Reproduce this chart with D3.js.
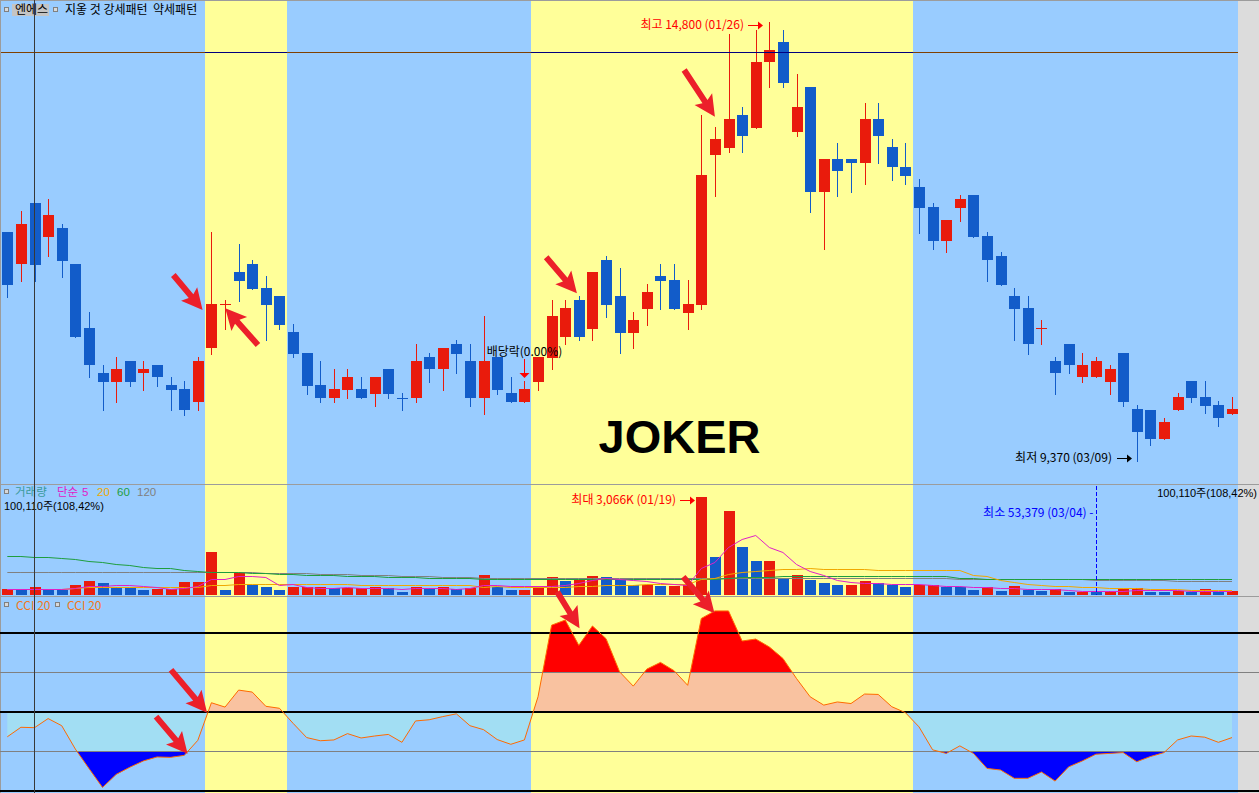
<!DOCTYPE html>
<html><head><meta charset="utf-8">
<script src="https://cdnjs.cloudflare.com/ajax/libs/d3/7.8.5/d3.min.js"></script>
<style>html,body{margin:0;padding:0;background:#fff;overflow:hidden}text{white-space:pre}</style>
</head><body><svg id="c" width="1259" height="793"></svg>
<script>
// ---------------- DATA ----------------
const opens  = [12200,11800,12560,12140,12250,11800,11010,10460,10350,10600,10450,10550,10310,10260,10100,10760,11310,11710,11800,11510,11410,10960,10700,10310,10150,10250,10260,10200,10500,10150,10150,10650,10500,10820,10600,10150,10650,10210,10100,10350,10640,10900,11360,11000,11850,11410,10950,11250,11660,11610,11200,11300,13150,13240,13650,13490,14300,14550,13440,14000,12700,13100,13100,13050,13600,13250,13000,12760,12510,12090,12500,12660,12150,11900,11410,11260,11010,10600,10820,10400,10400,10350,10700,10010,10000,9640,10000,10360,10160,10060,9950];
const highs  = [12200,12460,12560,12610,12300,11800,11210,10550,10650,10600,10600,10550,10410,10360,10650,12200,11360,12050,11850,11660,11410,11060,10700,10600,10500,10500,10410,10410,10500,10210,10820,10700,10770,10860,10820,11160,10650,10410,10360,10650,11360,11360,11410,11710,11900,11760,11210,11560,11800,11800,11610,13650,13500,14650,13750,14700,14800,14700,14160,14000,13100,13300,13100,13800,13800,13350,13300,12860,12560,12350,12660,12660,12200,11950,11510,11410,11110,10650,10820,10700,10650,10560,10700,10060,10000,9900,10210,10360,10360,10110,10160];
const lows   = [11400,11600,11600,11900,11640,10900,10400,10000,10100,10300,10250,10300,10000,9930,10000,10690,11000,11350,11500,10860,11000,10650,10200,10100,10100,10150,10150,10050,10150,10000,10100,10350,10250,10450,10050,9950,10200,10100,10100,10250,10500,10810,10860,10860,11150,10700,10760,11050,11250,11250,11000,11250,12650,13190,13190,13490,13990,13990,13390,12450,11990,12650,12700,12800,13050,12850,12800,12190,11990,11950,12340,12140,11600,11550,10860,10690,10810,10200,10450,10350,10400,10200,10050,9370,9560,9640,10000,10100,9960,9800,9950];
const closes = [11550,12300,11790,12410,11840,10900,10550,10350,10500,10350,10500,10400,10250,10000,10600,11310,11310,11600,11500,11300,11050,10690,10300,10150,10260,10410,10150,10410,10200,10150,10600,10500,10770,10690,10150,10600,10250,10100,10260,10650,11160,11260,10900,11710,11300,10950,11110,11460,11600,11250,11310,12910,13350,13600,13390,14310,14450,14040,13750,12700,13100,12950,13050,13600,13390,13000,12900,12500,12090,12350,12610,12140,11850,11550,11250,10810,11010,10450,10550,10560,10600,10500,10100,9730,9640,9850,10160,10150,10050,9900,10010];
// volume, thousand shares
const volumes = [148,117,212,148,117,275,402,338,212,180,117,148,148,370,370,1321,117,655,275,212,117,212,212,212,180,180,180,212,180,60,212,180,212,148,180,592,212,117,117,212,529,402,434,560,529,434,275,275,243,243,275,3066,1163,2621,1480,1036,1036,497,592,434,338,275,275,402,338,275,212,275,275,212,202,117,202,94,243,117,94,139,60,60,53,94,139,180,62,60,94,65,148,62,100];
const ma60  = [1190,1180,1170,1150,1130,1100,1050,1000,950,900,860,830,800,760,720,700,690,680,670,650,630,610,600,590,580,570,560,550,540,530,520,510,500,495,490,480,470,465,460,455,450,450,450,450,450,450,450,450,450,450,450,450,470,500,520,530,540,545,550,555,555,555,555,555,555,555,555,555,555,555,500,500,480,480,480,480,470,470,470,470,460,460,450,450,450,450,450,450,450,450,450];
const ma120 = [690,690,690,690,690,690,690,690,690,690,690,690,680,680,680,680,680,680,680,670,660,650,640,630,620,610,600,590,580,570,560,550,540,530,520,510,500,500,500,500,490,490,490,490,490,490,490,490,490,490,490,490,500,500,500,500,510,510,510,510,510,510,510,510,510,510,510,510,500,500,480,480,470,470,460,460,450,450,450,450,440,440,430,430,420,420,410,400,400,400,400];
const cci = [-63,-39,-40,-17,-35,-94,-143,-191,-158,-140,-124,-114,-115,-110,-72,23,12,55,50,14,9,-29,-65,-73,-71,-55,-66,-61,-57,-77,-23,-20,-12,-5,-35,-45,-70,-82,-71,38,219,232,168,217,185,101,65,108,125,104,67,236,255,255,179,184,164,135,84,38,17,25,21,45,44,13,-2,-38,-96,-105,-86,-105,-143,-147,-168,-168,-152,-175,-139,-124,-107,-105,-103,-126,-113,-103,-71,-61,-64,-77,-65];
const highlightRanges = [[15,20],[39,66]];     // yellow periods (candle index ranges)
const cciLevels = [200,100,0,-100,-200];
const markLine = 14430;                          // horizontal price line
const crossIndex = 1.95;                         // vertical cursor line
const highInfo = {i:56, label:"최고 14,800 (01/26)"};
const lowInfo  = {i:83, label:"최저 9,370 (03/09)"};
const volMaxInfo = {i:51, label:"최대 3,066K (01/19)"};
const volMinInfo = {i:80, label:"최소 53,379 (03/04)"};
const dividend = {i:38, label:"배당락(0.00%)"};
const lastVolLabel = "100,110주(108,42%)";
const volLegend = [["거래량","#3A9A9A",15],["단순","#E020C8",57],["5","#E020C8",82],["20","#F0A800",97],["60","#1E9E3E",117],["120","#808080",137]];
// annotation arrows: [panel, tailIndex, tailValue, tipIndex, tipValue]
const arrows = [
  ["p",12.2,11669,14.35,11235],["p",18.42,10802,16.02,11256],
  ["p",39.6,11888,41.86,11442],["p",49.74,14206,52.0,13628],
  ["c",12.03,106,14.68,-2],["c",10.93,-12,13.25,-106],
  ["c",40.41,303,42.05,211],["c",49.67,341,51.97,249]
];

// ---------------- SETUP ----------------
const RED="#E91B0C", BLUE="#125CC9", BGB="#99CCFF", BGY="#FFFF99", GRAYBG="#DCDCDC";
const FONT="'Noto Sans CJK KR','Noto Sans',sans-serif";
const FONT2="'Liberation Sans','Noto Sans CJK KR',sans-serif";
const svg = d3.select("#c");
const n = closes.length;
const x  = d3.scaleLinear().domain([0, n-1]).range([7.3, 1232]);
const yP = d3.scaleLinear().domain([9370, 14800]).range([460.7, 22]);
const yV = d3.scaleLinear().domain([-42, 3066]).range([595, 497]);
const yC = d3.scaleLinear().domain([-200, 200]).range([791, 632.7]);
const xr = i => Math.round(x(i));

// backgrounds
const segs=[]; let st=-0.5;
highlightRanges.forEach(([a,b])=>{segs.push([st,a-0.5,BGB]);segs.push([a-0.5,b+0.5,BGY]);st=b+0.5;});
segs.push([st,n-0.5,BGB]);
const ex = v => Math.max(0,Math.round(x(v)+0.3));
svg.append("rect").attr("x",0).attr("y",0).attr("width",1259).attr("height",793).attr("fill",GRAYBG);
svg.selectAll("rect.bg").data(segs).join("rect").attr("class","bg")
  .attr("x",d=>ex(d[0])).attr("y",0)
  .attr("width",d=>Math.min(1238,ex(d[1]))-ex(d[0])).attr("height",793)
  .attr("fill",d=>d[2]);

// panel borders
const border="#9C9C9C";
[[0,1259,0.5],[0,1259,484.5],[0,1259,596.5]].forEach(([a,b,y])=>svg.append("line").attr("x1",a).attr("x2",b).attr("y1",y).attr("y2",y).attr("stroke",border).attr("stroke-width",1));
svg.append("line").attr("x1",0.5).attr("x2",0.5).attr("y1",0).attr("y2",793).attr("stroke",border);

// ---------------- PRICE ----------------
const gP = svg.append("g");
const dir = d3.range(n).map(i=>closes[i]>opens[i]?1:closes[i]<opens[i]?-1:(i>0&&closes[i]<closes[i-1]?-1:1));
gP.selectAll("line.wick").data(d3.range(n)).join("line")
  .attr("x1",i=>xr(i)+0.5).attr("x2",i=>xr(i)+0.5)
  .attr("y1",i=>Math.round(yP(highs[i]))).attr("y2",i=>Math.round(yP(lows[i]))+1)
  .attr("stroke",i=>dir[i]>0?RED:BLUE).attr("stroke-width",1);
gP.selectAll("rect.body").data(d3.range(n)).join("rect")
  .attr("x",i=>xr(i)-5).attr("width",11)
  .attr("y",i=>Math.round(yP(Math.max(opens[i],closes[i]))))
  .attr("height",i=>Math.max(1,Math.round(yP(Math.min(opens[i],closes[i])))-Math.round(yP(Math.max(opens[i],closes[i])))))
  .attr("fill",i=>dir[i]>0?RED:BLUE);

// horizontal line
const yl = Math.round(yP(markLine))+0.5;
segs.forEach(s=>svg.append("line").attr("x1",ex(s[0])).attr("x2",Math.min(1238,ex(s[1])))
  .attr("y1",yl).attr("y2",yl).attr("stroke",s[2]===BGY?"#000080":"#804000").attr("stroke-width",1));

// high / low labels
function arrowRight(g,tipX,y,color){
  g.append("line").attr("x1",tipX-15).attr("x2",tipX-4).attr("y1",y+0.5).attr("y2",y+0.5).attr("stroke",color);
  g.append("path").attr("d",`M${tipX},${y+0.5}L${tipX-5},${y-3.5}L${tipX-5},${y+4.5}Z`).attr("fill",color);
}
const hx = xr(highInfo.i)-6, hy = Math.round(yP(highs[highInfo.i]))+3;
arrowRight(gP,hx,hy,"#FF0000");
gP.append("text").attr("x",hx-19).attr("y",hy+4).attr("text-anchor","end").attr("font-family",FONT).attr("font-size",12).attr("fill","#FF0000").text(highInfo.label);
const lx = xr(lowInfo.i)-5, ly = Math.round(yP(lows[lowInfo.i]))-3;
arrowRight(gP,lx,ly,"#000000");
gP.append("text").attr("x",lx-20).attr("y",ly+4).attr("text-anchor","end").attr("font-family",FONT).attr("font-size",12).attr("fill","#000").text(lowInfo.label);

// dividend marker
const dX = xr(dividend.i)+0.5, dY = Math.round(yP(highs[dividend.i]));
gP.append("line").attr("x1",dX).attr("x2",dX).attr("y1",dY-22).attr("y2",dY-8).attr("stroke","#FF0000");
gP.append("path").attr("d",`M${dX-5},${dY-8}L${dX+5},${dY-8}L${dX},${dY-3}Z`).attr("fill","#FF0000");
gP.append("text").attr("x",dX).attr("y",dY-25).attr("text-anchor","middle").attr("font-family",FONT).attr("font-size",12).attr("fill","#000").text(dividend.label);

// JOKER
svg.append("text").attr("x",x(49.4)).attr("y",453).attr("text-anchor","middle")
  .attr("font-family","'Liberation Sans',Arial,sans-serif").attr("font-weight","bold").attr("font-size",47).attr("fill","#000").text("JOKER");

// title
function sq(x0,y0){svg.append("rect").attr("x",x0+0.5).attr("y",y0+0.5).attr("width",4).attr("height",4).attr("fill","#D8D8D8").attr("stroke","#808080");}
sq(4,7);
svg.append("rect").attr("x",12).attr("y",4).attr("width",37).attr("height",12).attr("fill","#C4C4C4");
svg.append("text").attr("x",15).attr("y",14).attr("font-family",FONT).attr("font-size",12).attr("fill","#000").text("엔에스");
sq(53,7);
svg.append("text").attr("x",65).attr("y",14).attr("font-family",FONT).attr("font-size",12).attr("fill","#000").text("지옿 것 강세패턴  약세패턴");

// ---------------- VOLUME ----------------
const gV = svg.append("g");
const vdir = d3.range(n).map(i=>i>0&&volumes[i]<volumes[i-1]?-1:1);
gV.selectAll("rect.vol").data(d3.range(n)).join("rect")
  .attr("x",i=>xr(i)-5).attr("width",11)
  .attr("y",i=>Math.round(yV(volumes[i]))).attr("height",i=>595-Math.round(yV(volumes[i])))
  .attr("fill",i=>vdir[i]>0?RED:BLUE);
function maCalc(k){return d3.range(n).map(i=>d3.mean(volumes.slice(Math.max(0,i-k+1),i+1)));}
[[ma120,"#808080"],[ma60,"#1E9E3E"],[maCalc(20),"#F0A800"],[maCalc(5),"#E020C8"]].forEach(([arr,c])=>{
  gV.append("path").attr("d",d3.line().x((d,i)=>x(i)).y(d=>Math.round(yV(d))+0.5)(arr)).attr("fill","none").attr("stroke",c).attr("stroke-width",1);
});
// volume header
sq(4,489);
volLegend.forEach(([t,c,x0])=>svg.append("text").attr("x",x0).attr("y",496).attr("font-family",FONT2).attr("font-size",11.5).attr("fill",c).text(t));
svg.append("text").attr("x",4).attr("y",509.5).attr("font-family",FONT2).attr("font-size",11).attr("fill","#000").text(lastVolLabel);
svg.append("text").attr("x",1257).attr("y",497).attr("text-anchor","end").attr("font-family",FONT2).attr("font-size",11).attr("fill","#000").text(lastVolLabel);
// max / min
const mx = xr(volMaxInfo.i)-6, my = Math.round(yV(volumes[volMaxInfo.i]))+3;
arrowRight(gV,mx,my,"#FF0000");
gV.append("text").attr("x",mx-19).attr("y",my+4).attr("text-anchor","end").attr("font-family",FONT).attr("font-size",12).attr("fill","#FF0000").text(volMaxInfo.label);
const nx = xr(volMinInfo.i)+0.5;
gV.append("line").attr("x1",nx).attr("x2",nx).attr("y1",486).attr("y2",595).attr("stroke","#0000FF").attr("stroke-dasharray","4,2");
gV.append("text").attr("x",nx-3).attr("y",517).attr("text-anchor","end").attr("font-family",FONT).attr("font-size",12).attr("fill","#0000FF").text(volMinInfo.label+" -");

// ---------------- CCI ----------------
const gC = svg.append("g");
const defs = svg.append("defs");
const bandsC = [[400,100,"#FF0000"],[100,0,"#F9C2A0"],[0,-100,"#A2DEF3"],[-100,-400,"#0000FF"]];
const area = d3.area().x((d,i)=>x(i)).y0(yC(0)).y1(d=>yC(d));
bandsC.forEach(([hi,lo,c],k)=>{
  defs.append("clipPath").attr("id","cb"+k).append("rect").attr("x",0).attr("width",1259)
    .attr("y",yC(hi)).attr("height",yC(lo)-yC(hi));
  gC.append("path").attr("d",area(cci)).attr("fill",c).attr("clip-path",`url(#cb${k})`);
});
cciLevels.forEach(v=>{
  const thick = v%200===0;
  gC.append("line").attr("x1",0).attr("x2",1259).attr("y1",Math.round(yC(v))+(thick?0:0.5)).attr("y2",Math.round(yC(v))+(thick?0:0.5))
    .attr("stroke",thick?"#000":"#808080").attr("stroke-width",thick?2:1);
});
gC.append("path").attr("d",d3.line().x((d,i)=>x(i)).y(d=>yC(d))(cci)).attr("fill","none").attr("stroke","#FF6A00").attr("stroke-width",1);
sq(4,602); sq(55,602);
svg.append("text").attr("x",16).attr("y",610).attr("font-family",FONT).attr("font-size",12).attr("fill","#F07820").text("CCI 20");
svg.append("text").attr("x",67).attr("y",610).attr("font-family",FONT).attr("font-size",12).attr("fill","#F07820").text("CCI 20");

// cursor line
svg.append("line").attr("x1",Math.round(x(crossIndex))+0.5).attr("x2",Math.round(x(crossIndex))+0.5).attr("y1",0).attr("y2",793).attr("stroke","#383838");

// ---------------- ARROWS ----------------
const ARC="#EC1F2A";
arrows.forEach(([p,i0,v0,i1,v1])=>{
  const ys = p==="p"?yP:yC;
  const X0=x(i0),Y0=ys(v0),X1=x(i1),Y1=ys(v1);
  const dx=X1-X0,dy=Y1-Y0,L=Math.hypot(dx,dy),ux=dx/L,uy=dy/L,px=-uy,py=ux;
  const hl=21,hw=10.5,sw=3;
  const bx=X1-ux*hl,by=Y1-uy*hl;
  const pts=[[X0+px*sw,Y0+py*sw],[bx+px*sw+ux*3,by+py*sw+uy*3],[bx+px*hw,by+py*hw],[X1,Y1],[bx-px*hw,by-py*hw],[bx-px*sw+ux*3,by-py*sw+uy*3],[X0-px*sw,Y0-py*sw]];
  svg.append("path").attr("d","M"+pts.map(q=>q.join(",")).join("L")+"Z").attr("fill",ARC);
});
</script></body></html>
